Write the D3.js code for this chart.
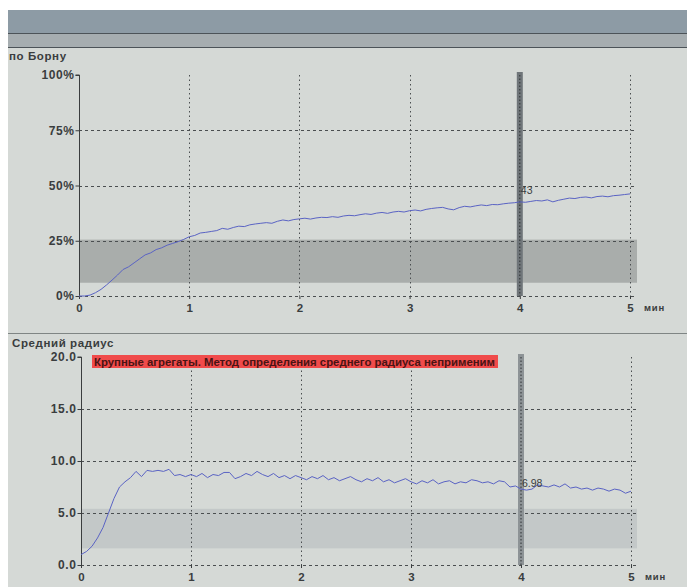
<!DOCTYPE html>
<html>
<head>
<meta charset="utf-8">
<script src="https://cdn.jsdelivr.net/npm/d3@7"></script>
<style>
  body { margin: 0; background: #fff; }
  svg text { font-family: "Liberation Sans", Arial, sans-serif; font-weight: bold; fill: #3a3d3e; }
</style>
</head>
<body>
<div id="root"></div>
<script>
// time axis, minutes, one sample every 0.05 min
const times = d3.range(0, 101).map(i => i * 0.05);
const xTicks = [0, 1, 2, 3, 4, 5];

// "по Борну", %
const bornValues = [
  0, 0, 0.4, 1.5, 3.0, 5.0, 7.2, 9.5, 12.0, 13.2,
  15.0, 16.8, 18.6, 19.5, 21.0, 21.8, 23.0, 23.8, 24.6, 25.6,
  26.8, 27.4, 28.5, 28.8, 29.2, 29.6, 30.6, 30.2, 31.0, 31.6,
  31.4, 32.2, 32.6, 32.9, 33.2, 32.9, 33.8, 34.4, 34.0, 34.6,
  34.9, 35.2, 34.8, 35.3, 35.6, 35.5, 35.9, 35.6, 36.2, 36.5,
  36.3, 36.8, 37.2, 36.9, 37.5, 37.8, 37.4, 38.0, 38.3, 38.0,
  38.6, 38.9, 38.5, 39.2, 39.6, 39.9, 40.1, 39.4, 39.0, 40.0,
  40.6, 40.3, 40.8, 41.2, 40.9, 41.4, 41.3, 41.7, 42.0, 42.2,
  42.6, 42.4, 42.8, 43.2, 43.0, 43.5, 42.6, 43.3, 43.8, 44.3,
  44.1, 44.6, 44.8, 44.4, 45.0, 45.2, 44.9, 45.4, 45.6, 45.9,
  46.2
];
const bornTicks = [0, 25, 50, 75, 100];
const bornBand = [6, 25.5];

// "Средний радиус"
const radiusValues = [
  1.0, 1.3, 1.8, 2.6, 3.6, 5.0, 6.4, 7.5, 8.0, 8.4,
  9.0, 8.5, 9.1, 9.0, 9.1, 9.0, 9.2, 8.6, 8.7, 8.5,
  8.7, 8.5, 8.8, 8.4, 8.7, 8.6, 8.9, 8.9, 8.3, 8.5,
  8.8, 8.6, 9.0, 8.7, 8.5, 8.8, 8.4, 8.6, 8.3, 8.6,
  8.4, 8.2, 8.5, 8.3, 8.6, 8.2, 8.4, 8.1, 8.3, 8.5,
  8.2, 8.0, 8.3, 8.1, 8.4, 8.0, 8.2, 7.9, 8.1, 8.3,
  8.0, 7.8, 8.1, 7.9, 8.2, 7.8, 8.0, 8.1, 7.8, 8.0,
  7.9, 8.2, 8.1, 7.9, 8.0, 7.8, 8.1, 8.0, 7.5, 7.6,
  7.3, 7.2, 7.3, 7.7, 7.6, 7.5, 7.7, 7.5, 7.8, 7.4,
  7.5, 7.3, 7.4, 7.2, 7.4, 7.3, 7.1, 7.3, 7.2, 6.9,
  7.1
];
const radiusTicks = [0, 5, 10, 15, 20];
const radiusBand = [1.6, 5.4];

const cursorTime = 4;
const bornCursorLabel = "43";
const radiusCursorLabel = "6.98";
const warningText = "Крупные агрегаты. Метод определения среднего радиуса неприменим";

const width = 687, height = 587;
const svg = d3.select("#root").append("svg")
  .attr("width", width).attr("height", height);

// screen frame
svg.append("rect").attr("x", 8).attr("y", 10).attr("width", width - 8).attr("height", height - 10)
  .attr("fill", "#d5d9d6");
svg.append("rect").attr("x", 8).attr("y", 10).attr("width", width - 8).attr("height", 23)
  .attr("fill", "#8d9ba5");
svg.append("rect").attr("x", 8).attr("y", 34).attr("width", width - 8).attr("height", 13)
  .attr("fill", "#a6adb0");
svg.append("line").attr("x1", 8).attr("x2", width).attr("y1", 33.5).attr("y2", 33.5)
  .attr("stroke", "#4c5358");
svg.append("line").attr("x1", 8).attr("x2", width).attr("y1", 47.5).attr("y2", 47.5)
  .attr("stroke", "#4c5358");
svg.append("line").attr("x1", 8).attr("x2", width).attr("y1", 333.5).attr("y2", 333.5)
  .attr("stroke", "#7f8584");

function drawPanel(cfg) {
  const x = d3.scaleLinear().domain([0, 5]).range(cfg.xRange);
  const y = d3.scaleLinear().domain(cfg.yDomain).range(cfg.yRange);
  const g = svg.append("g");
  const right = 637;

  g.append("text").attr("x", cfg.titlePos[0]).attr("y", cfg.titlePos[1])
    .style("font-size", "11.5px").style("letter-spacing", "0.6px").text(cfg.title);

  // band
  g.append("rect")
    .attr("x", x(0)).attr("width", right - x(0))
    .attr("y", y(cfg.band[1])).attr("height", y(cfg.band[0]) - y(cfg.band[1]))
    .attr("fill", cfg.bandColor);

  // horizontal grid
  g.selectAll(".hgrid").data(cfg.yTicks.slice(0, -1)).enter().append("line")
    .attr("x1", x(0)).attr("x2", right)
    .attr("y1", d => Math.round(y(d)) + 0.5).attr("y2", d => Math.round(y(d)) + 0.5)
    .attr("stroke", "#4a4e50").attr("stroke-dasharray", "3,3");

  // vertical grid
  g.selectAll(".vgrid").data(xTicks.slice(1)).enter().append("line")
    .attr("x1", d => Math.round(x(d)) + 0.5).attr("x2", d => Math.round(x(d)) + 0.5)
    .attr("y1", y(cfg.yDomain[1])).attr("y2", y(cfg.yDomain[0]))
    .attr("stroke", "#4a4e50").attr("stroke-dasharray", "1.5,3");

  // cursor
  g.append("rect")
    .attr("x", x(cursorTime) - 3).attr("width", 6)
    .attr("y", y(cfg.yDomain[1]) - 3).attr("height", y(cfg.yDomain[0]) - y(cfg.yDomain[1]) + 3)
    .attr("fill", cfg.cursorColor);
  g.append("line")
    .attr("x1", x(cursorTime)).attr("x2", x(cursorTime))
    .attr("y1", y(cfg.yDomain[1])).attr("y2", y(cfg.yDomain[0]))
    .attr("stroke", "#2e3234").attr("stroke-dasharray", "1.5,2");

  // y axis
  const yAxis = d3.axisLeft(y).tickValues(cfg.yTicks).tickSize(4).tickFormat(cfg.yFormat);
  const ya = g.append("g").attr("transform", `translate(${Math.round(x(0)) + 0.5},0)`).call(yAxis);
  ya.select(".domain").attr("stroke", "#3a3d3e").attr("d", `M-4,${y(cfg.yDomain[1])}H0V${y(cfg.yDomain[0])}`);
  ya.selectAll(".tick line").attr("stroke", "#3a3d3e");
  ya.selectAll(".tick text").attr("x", -5).style("font-size", "12px").style("letter-spacing", "0.6px")
    .style("font-family", "Liberation Sans, Arial, sans-serif").attr("fill", "#3a3d3e");

  // x axis labels
  const xa = g.append("g").attr("transform", `translate(0,${y(cfg.yDomain[0])})`)
    .call(d3.axisBottom(x).tickValues(xTicks).tickSize(3).tickFormat(d3.format("d")));
  xa.select(".domain").remove();
  xa.selectAll(".tick line").attr("stroke", "#3a3d3e");
  xa.selectAll(".tick text").attr("dy", "0.85em").style("font-size", "11.5px")
    .style("font-family", "Liberation Sans, Arial, sans-serif").attr("fill", "#3a3d3e");
  g.append("text").attr("x", x(5) + 14).attr("y", y(cfg.yDomain[0]) + 15)
    .style("font-size", "9.5px").style("letter-spacing", "0.8px").text("мин");

  // series
  const line = d3.line().x((d, i) => x(times[i])).y(d => y(d));
  g.append("path").datum(cfg.values).attr("d", line)
    .attr("fill", "none").attr("stroke", "#5a63c4").attr("stroke-width", 1);

  g.append("text").attr("x", x(cursorTime) + 1).attr("y", cfg.cursorLabelY)
    .style("font-size", "10.5px").style("font-weight", "normal").attr("fill", "#222")
    .text(cfg.cursorLabel);
  return { x, y, g };
}

drawPanel({
  title: "по Борну", titlePos: [9, 60],
  xRange: [79, 630], yDomain: [0, 100], yRange: [296, 75],
  yTicks: bornTicks, yFormat: d => d + "%",
  band: bornBand, bandColor: "#a9adab", cursorColor: "#6f7579",
  values: bornValues, cursorLabel: bornCursorLabel, cursorLabelY: 194
});

const p2 = drawPanel({
  title: "Средний радиус", titlePos: [12, 347],
  xRange: [81, 631], yDomain: [0, 20], yRange: [565, 357],
  yTicks: radiusTicks, yFormat: d3.format(".1f"),
  band: radiusBand, bandColor: "#c3c8c8", cursorColor: "#8d9396",
  values: radiusValues, cursorLabel: radiusCursorLabel, cursorLabelY: 487
});

// warning banner
p2.g.append("rect").attr("x", 92).attr("y", 355).attr("width", 406).attr("height", 13)
  .attr("fill", "#f04b4b");
p2.g.append("text").attr("x", 94).attr("y", 365.5)
  .attr("textLength", 401).attr("lengthAdjust", "spacingAndGlyphs")
  .style("font-size", "10.5px").attr("fill", "#4a1414").style("fill", "#4a1414")
  .text(warningText);
</script>
</body>
</html>
